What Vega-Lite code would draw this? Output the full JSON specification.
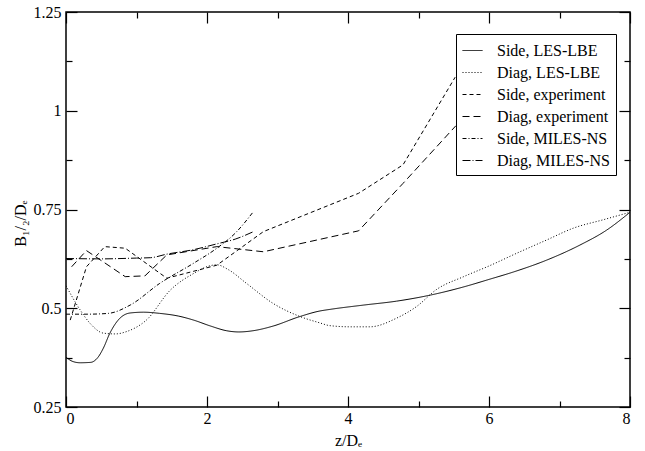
{
 "$schema": "https://vega.github.io/schema/vega-lite/v6.json",
 "width": 564, "height": 395,
 "autosize": {"type": "none"},
 "padding": {"left": 66, "top": 12, "right": 15, "bottom": 44},
 "background": "#ffffff",
 "config": {
  "view": {"stroke": "#000", "strokeWidth": 1.5},
  "font": "'Liberation Serif', 'Times New Roman', serif",
  "axis": {"labelFont": "'Liberation Serif', 'Times New Roman', serif", "titleFont": "'Liberation Serif', 'Times New Roman', serif", "labelColor": "#000", "titleColor": "#000", "tickColor": "#000", "tickWidth": 1.2, "labelFontSize": 16, "titleFontSize": 16, "titleFontWeight": "normal", "grid": false, "domain": false},
  "legend": {"labelFont": "'Liberation Serif', 'Times New Roman', serif", "labelFontSize": 16, "labelColor": "#000", "symbolType": "stroke", "symbolSize": 400, "symbolStrokeWidth": 1, "symbolStrokeColor": "#000", "rowPadding": 3, "padding": 6, "strokeColor": "#000", "fillColor": "#fff", "labelOffset": 14}
 },
 "data": {"values": [
  {"series": "Side, LES-LBE", "z": 0, "v": 0.376},
  {"series": "Side, LES-LBE", "z": 0.1, "v": 0.365},
  {"series": "Side, LES-LBE", "z": 0.2, "v": 0.362},
  {"series": "Side, LES-LBE", "z": 0.35, "v": 0.363},
  {"series": "Side, LES-LBE", "z": 0.45, "v": 0.375},
  {"series": "Side, LES-LBE", "z": 0.53, "v": 0.399},
  {"series": "Side, LES-LBE", "z": 0.62, "v": 0.436},
  {"series": "Side, LES-LBE", "z": 0.74, "v": 0.47},
  {"series": "Side, LES-LBE", "z": 0.91, "v": 0.488},
  {"series": "Side, LES-LBE", "z": 1.1, "v": 0.49},
  {"series": "Side, LES-LBE", "z": 1.33, "v": 0.487},
  {"series": "Side, LES-LBE", "z": 1.6, "v": 0.48},
  {"series": "Side, LES-LBE", "z": 1.81, "v": 0.47},
  {"series": "Side, LES-LBE", "z": 2.05, "v": 0.455},
  {"series": "Side, LES-LBE", "z": 2.28, "v": 0.443},
  {"series": "Side, LES-LBE", "z": 2.45, "v": 0.44},
  {"series": "Side, LES-LBE", "z": 2.65, "v": 0.443},
  {"series": "Side, LES-LBE", "z": 2.94, "v": 0.455},
  {"series": "Side, LES-LBE", "z": 3.3, "v": 0.478},
  {"series": "Side, LES-LBE", "z": 3.6, "v": 0.493},
  {"series": "Side, LES-LBE", "z": 3.74, "v": 0.497},
  {"series": "Side, LES-LBE", "z": 4.22, "v": 0.508},
  {"series": "Side, LES-LBE", "z": 4.69, "v": 0.518},
  {"series": "Side, LES-LBE", "z": 5.16, "v": 0.533},
  {"series": "Side, LES-LBE", "z": 5.64, "v": 0.554},
  {"series": "Side, LES-LBE", "z": 6.0, "v": 0.573},
  {"series": "Side, LES-LBE", "z": 6.35, "v": 0.592},
  {"series": "Side, LES-LBE", "z": 6.82, "v": 0.622},
  {"series": "Side, LES-LBE", "z": 7.29, "v": 0.66},
  {"series": "Side, LES-LBE", "z": 7.67, "v": 0.698},
  {"series": "Side, LES-LBE", "z": 8.0, "v": 0.743},
  {"series": "Diag, LES-LBE", "z": 0, "v": 0.557},
  {"series": "Diag, LES-LBE", "z": 0.2, "v": 0.496},
  {"series": "Diag, LES-LBE", "z": 0.35, "v": 0.46},
  {"series": "Diag, LES-LBE", "z": 0.53, "v": 0.437},
  {"series": "Diag, LES-LBE", "z": 0.7, "v": 0.435},
  {"series": "Diag, LES-LBE", "z": 0.86, "v": 0.441},
  {"series": "Diag, LES-LBE", "z": 1.14, "v": 0.47},
  {"series": "Diag, LES-LBE", "z": 1.48, "v": 0.546},
  {"series": "Diag, LES-LBE", "z": 1.81, "v": 0.588},
  {"series": "Diag, LES-LBE", "z": 2.05, "v": 0.608},
  {"series": "Diag, LES-LBE", "z": 2.14, "v": 0.61},
  {"series": "Diag, LES-LBE", "z": 2.3, "v": 0.598},
  {"series": "Diag, LES-LBE", "z": 2.56, "v": 0.563},
  {"series": "Diag, LES-LBE", "z": 2.94, "v": 0.512},
  {"series": "Diag, LES-LBE", "z": 3.32, "v": 0.479},
  {"series": "Diag, LES-LBE", "z": 3.6, "v": 0.463},
  {"series": "Diag, LES-LBE", "z": 3.74, "v": 0.456},
  {"series": "Diag, LES-LBE", "z": 4.03, "v": 0.453},
  {"series": "Diag, LES-LBE", "z": 4.31, "v": 0.453},
  {"series": "Diag, LES-LBE", "z": 4.69, "v": 0.475},
  {"series": "Diag, LES-LBE", "z": 4.97, "v": 0.504},
  {"series": "Diag, LES-LBE", "z": 5.26, "v": 0.548},
  {"series": "Diag, LES-LBE", "z": 5.64, "v": 0.58},
  {"series": "Diag, LES-LBE", "z": 6.0, "v": 0.607},
  {"series": "Diag, LES-LBE", "z": 6.39, "v": 0.639},
  {"series": "Diag, LES-LBE", "z": 6.82, "v": 0.673},
  {"series": "Diag, LES-LBE", "z": 7.2, "v": 0.703},
  {"series": "Diag, LES-LBE", "z": 7.62, "v": 0.724},
  {"series": "Diag, LES-LBE", "z": 8.0, "v": 0.743},
  {"series": "Side, experiment", "z": 0.06, "v": 0.47},
  {"series": "Side, experiment", "z": 0.29, "v": 0.605},
  {"series": "Side, experiment", "z": 0.55, "v": 0.656},
  {"series": "Side, experiment", "z": 0.84, "v": 0.652},
  {"series": "Side, experiment", "z": 1.43, "v": 0.576},
  {"series": "Side, experiment", "z": 2.14, "v": 0.609},
  {"series": "Side, experiment", "z": 2.8, "v": 0.694},
  {"series": "Side, experiment", "z": 4.15, "v": 0.791},
  {"series": "Side, experiment", "z": 4.78, "v": 0.863},
  {"series": "Side, experiment", "z": 5.52, "v": 1.085},
  {"series": "Diag, experiment", "z": 0.08, "v": 0.605},
  {"series": "Diag, experiment", "z": 0.29, "v": 0.646},
  {"series": "Diag, experiment", "z": 0.84, "v": 0.58},
  {"series": "Diag, experiment", "z": 1.12, "v": 0.582},
  {"series": "Diag, experiment", "z": 1.43, "v": 0.635},
  {"series": "Diag, experiment", "z": 2.14, "v": 0.656},
  {"series": "Diag, experiment", "z": 2.8, "v": 0.643},
  {"series": "Diag, experiment", "z": 4.15, "v": 0.696},
  {"series": "Diag, experiment", "z": 4.78, "v": 0.816},
  {"series": "Diag, experiment", "z": 5.53, "v": 0.962},
  {"series": "Side, MILES-NS", "z": 0, "v": 0.485},
  {"series": "Side, MILES-NS", "z": 0.3, "v": 0.485},
  {"series": "Side, MILES-NS", "z": 0.6, "v": 0.487},
  {"series": "Side, MILES-NS", "z": 0.91, "v": 0.508},
  {"series": "Side, MILES-NS", "z": 1.33, "v": 0.563},
  {"series": "Side, MILES-NS", "z": 1.81, "v": 0.614},
  {"series": "Side, MILES-NS", "z": 2.14, "v": 0.652},
  {"series": "Side, MILES-NS", "z": 2.4, "v": 0.69},
  {"series": "Side, MILES-NS", "z": 2.66, "v": 0.745},
  {"series": "Diag, MILES-NS", "z": 0, "v": 0.626},
  {"series": "Diag, MILES-NS", "z": 0.5, "v": 0.625},
  {"series": "Diag, MILES-NS", "z": 1.0, "v": 0.627},
  {"series": "Diag, MILES-NS", "z": 1.2, "v": 0.628},
  {"series": "Diag, MILES-NS", "z": 1.43, "v": 0.637},
  {"series": "Diag, MILES-NS", "z": 1.8, "v": 0.648},
  {"series": "Diag, MILES-NS", "z": 2.14, "v": 0.663},
  {"series": "Diag, MILES-NS", "z": 2.4, "v": 0.675},
  {"series": "Diag, MILES-NS", "z": 2.66, "v": 0.694}
 ]},
 "resolve": {"axis": {"x": "independent", "y": "independent"}},
 "layer": [
  {
   "transform": [{"filter": "indexof(['Side, experiment','Diag, experiment'], datum.series) < 0"}],
   "mark": {"type": "line", "interpolate": "monotone", "color": "#000", "strokeWidth": 1, "clip": true},
   "encoding": {
    "x": {"field": "z", "type": "quantitative", "scale": {"domain": [0, 8], "nice": false, "zero": false},
          "axis": {"orient": "bottom", "ticks": false, "values": [0, 2, 4, 6, 8], "labelPadding": 3, "title": "z/Dₑ", "titleY": 38, "titleBaseline": "alphabetic"}},
    "y": {"field": "v", "type": "quantitative", "scale": {"domain": [0.25, 1.25], "nice": false, "zero": false},
          "axis": {"orient": "left", "ticks": false, "values": [0.25, 0.5, 0.75, 1, 1.25], "labelExpr": "datum.value", "labelPadding": 5, "title": "B₁/₂/Dₑ", "titleX": -46, "titleY": 211, "titleBaseline": "middle", "titleAlign": "center", "titleAngle": -90}},
    "strokeDash": {"field": "series", "type": "nominal",
     "scale": {"domain": ["Side, LES-LBE", "Diag, LES-LBE", "Side, experiment", "Diag, experiment", "Side, MILES-NS", "Diag, MILES-NS"],
               "range": [[1, 0], [1, 2], [4, 3], [7, 4], [4, 2, 1, 2], [8, 2, 1, 2]]},
     "legend": {"orient": "none", "legendX": 390, "legendY": 22, "title": null, "zindex": 1}}
   }
  },
  {
   "transform": [{"filter": "indexof(['Side, experiment','Diag, experiment'], datum.series) >= 0"}],
   "mark": {"type": "line", "interpolate": "linear", "color": "#000", "strokeWidth": 1, "clip": true},
   "encoding": {
    "x": {"field": "z", "type": "quantitative", "axis": null},
    "y": {"field": "v", "type": "quantitative", "axis": null},
    "strokeDash": {"field": "series", "type": "nominal"}
   }
  },
  {
   "mark": {"type": "point", "opacity": 0, "size": 1},
   "encoding": {
    "x": {"field": "z", "type": "quantitative", "axis": {"orient": "bottom", "labels": false, "title": null, "values": [0, 2, 4, 6, 8], "tickSize": -11}},
    "y": {"field": "v", "type": "quantitative", "axis": {"orient": "left", "labels": false, "title": null, "values": [0.25, 0.5, 0.75, 1, 1.25], "tickSize": -11}}
   }
  },
  {
   "mark": {"type": "point", "opacity": 0, "size": 1},
   "encoding": {
    "x": {"field": "z", "type": "quantitative", "axis": {"orient": "bottom", "labels": false, "title": null, "values": [1, 3, 5, 7], "tickSize": -6}},
    "y": {"field": "v", "type": "quantitative", "axis": {"orient": "left", "labels": false, "title": null, "values": [0.375, 0.625, 0.875, 1.125], "tickSize": -6}}
   }
  },
  {
   "mark": {"type": "point", "opacity": 0, "size": 1},
   "encoding": {
    "x": {"field": "z", "type": "quantitative", "axis": {"orient": "top", "labels": false, "title": null, "values": [0, 2, 4, 6, 8], "tickSize": -11}},
    "y": {"field": "v", "type": "quantitative", "axis": {"orient": "right", "labels": false, "title": null, "values": [0.25, 0.5, 0.75, 1, 1.25], "tickSize": -11}}
   }
  },
  {
   "mark": {"type": "point", "opacity": 0, "size": 1},
   "encoding": {
    "x": {"field": "z", "type": "quantitative", "axis": {"orient": "top", "labels": false, "title": null, "values": [1, 3, 5, 7], "tickSize": -6}},
    "y": {"field": "v", "type": "quantitative", "axis": {"orient": "right", "labels": false, "title": null, "values": [0.375, 0.625, 0.875, 1.125], "tickSize": -6}}
   }
  }
 ]
}
